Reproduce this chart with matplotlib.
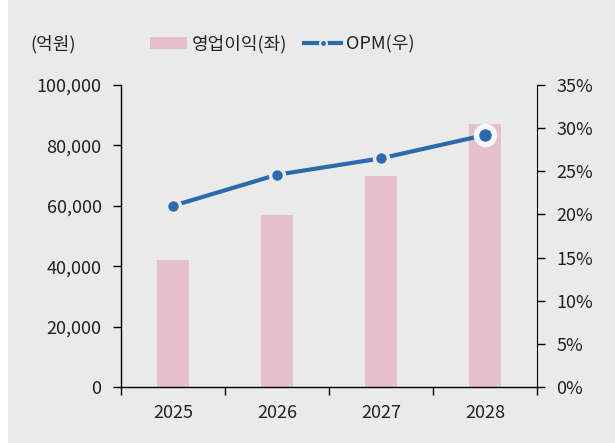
import matplotlib
matplotlib.use("Agg")
import matplotlib.pyplot as plt
from matplotlib.patches import Rectangle
from matplotlib.lines import Line2D
from matplotlib.ticker import FuncFormatter, MultipleLocator

plt.rcParams['font.family'] = ['Noto Sans CJK KR', 'DejaVu Sans']
plt.rcParams['font.weight'] = 'light'
plt.rcParams['text.color'] = '#222222'
plt.rcParams['xtick.color'] = '#222222'
plt.rcParams['ytick.color'] = '#222222'
plt.rcParams['xtick.labelcolor'] = '#222222'
plt.rcParams['ytick.labelcolor'] = '#222222'

years = ['2025', '2026', '2027', '2028']
op_profit = [42000, 57000, 70000, 87000]
opm = [21.0, 24.6, 26.5, 29.2]

BG = '#eaeaea'
BAR = '#e5bfcb'
LINE = '#2a6aad'
FS = 13

fig = plt.figure(figsize=(6.15, 4.43), dpi=100, facecolor='white')
fig.patches.append(Rectangle((8/615, 0), 1 - 8/615, 1, transform=fig.transFigure,
                             facecolor=BG, edgecolor='none', zorder=-10))

ax = fig.add_axes([121/615, 1 - 387/443, (537-121)/615, (387-85)/443])
ax.set_facecolor(BG)
ax.patch.set_alpha(0)
x = list(range(len(years)))
ax.bar(x, op_profit, width=0.31, color=BAR, zorder=1)
ax.set_xlim(-0.5, len(years) - 0.5)
ax.set_ylim(0, 100000)
ax.yaxis.set_major_locator(MultipleLocator(20000))
ax.yaxis.set_major_formatter(FuncFormatter(lambda v, p: f'{int(v):,}'))
ax.set_xticks(x)
ax.set_xticklabels(years)
ax.tick_params(axis='x', which='major', length=0, labelsize=FS, pad=12)
ax.set_xticks([i - 0.5 for i in range(len(years) + 1)], minor=True)
ax.tick_params(axis='x', which='minor', length=6, direction='out', width=1, color='black')
ax.tick_params(axis='y', length=6, direction='out', labelsize=FS, pad=8, width=1, color='black')
for s in ['top', 'right']:
    ax.spines[s].set_visible(False)
for s in ['left', 'bottom']:
    ax.spines[s].set_color('black')
    ax.spines[s].set_linewidth(1)

ax2 = ax.twinx()
ax2.set_ylim(0, 35)
ax2.yaxis.set_major_locator(MultipleLocator(5))
ax2.yaxis.set_major_formatter(FuncFormatter(lambda v, p: f'{int(v)}%'))
ax2.tick_params(axis='y', length=6, direction='out', labelsize=FS, pad=8, width=1, color='black')
for s in ['top', 'left', 'bottom']:
    ax2.spines[s].set_visible(False)
ax2.spines['right'].set_color('black')
ax2.plot(x, opm, color=LINE, lw=3, zorder=3)
ax2.plot(x[:-1], opm[:-1], 'o', color=LINE, ms=10, mec=BG, mew=2.5, zorder=4)
ax2.plot(x[-1:], opm[-1:], 'o', color=LINE, ms=13, mec='#f7f7f7', mew=4, zorder=4)

fig.text(30/615, 1 - 44/443, '(억원)', fontsize=FS, va='center', ha='left')

handles = [Rectangle((0, 0), 1, 1, facecolor=BAR, edgecolor='none'),
           Line2D([0], [0], color=LINE, lw=3, marker='o', ms=5, mec=BG, mew=1.5)]
leg = fig.legend(handles, ['영업이익(좌)', 'OPM(우)'], loc='center',
                 bbox_to_anchor=(282/615, 1 - 44/443), ncol=2, frameon=False,
                 fontsize=FS, handlelength=2.1, handleheight=0.6,
                 columnspacing=0.9, handletextpad=0.25)

fig.savefig('out.png', dpi=100, facecolor=fig.get_facecolor())
